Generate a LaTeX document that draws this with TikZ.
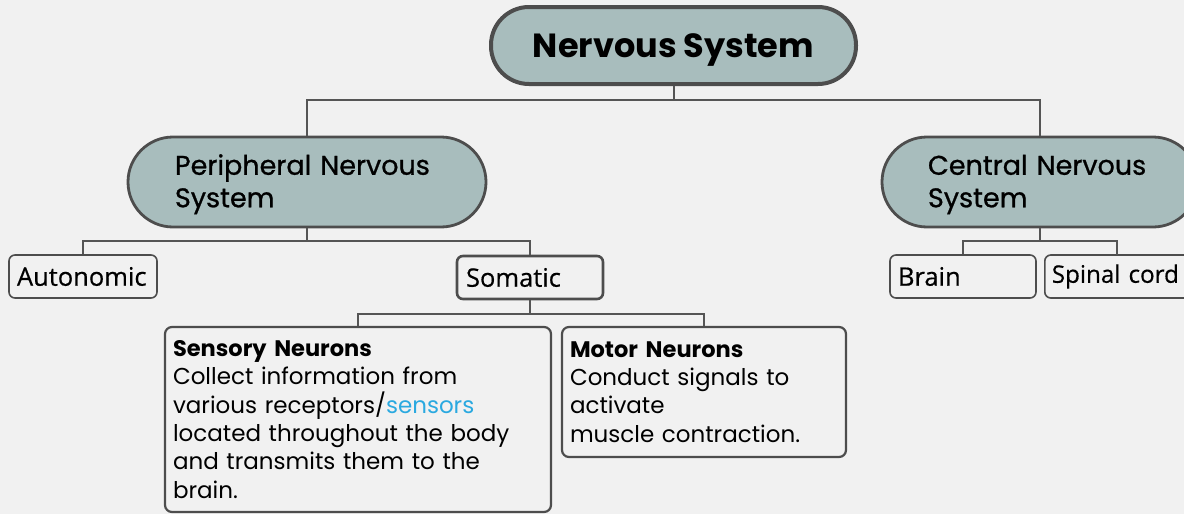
\documentclass[tikz,border=0pt]{standalone}
\usepackage{fontspec}
\setmainfont{Poppins}
\newfontfamily\medfont[FakeBold=0.8]{Poppins}
\newfontfamily\osans[FakeBold=0.5]{Open Sans}
\definecolor{bg}{HTML}{F1F1F1}
\definecolor{pillc}{HTML}{A8BDBD}
\definecolor{edgec}{HTML}{4D4D4D}
\definecolor{sens}{HTML}{2AA9E0}
\definecolor{linec}{HTML}{555555}
\newcommand{\lift}{\rule{0pt}{25pt}}
\tikzset{
  pillbox/.style={draw=edgec, fill=pillc, rounded corners=#1, inner sep=0pt},
  smallbox/.style={draw=edgec, fill=bg, line width=1.6pt, rounded corners=6pt, inner sep=0pt,
     minimum height=43pt, font={\osans\fontsize{25.5}{26}\selectfont}},
  infobox/.style={draw=edgec, line width=2.2pt, rounded corners=7pt, inner sep=0pt, align=left,
     font={\fontsize{23}{28.3}\selectfont}},
  conn/.style={draw=linec, line width=2pt}
}
\begin{document}
\begin{tikzpicture}[x=1pt,y=-1pt]
\fill[bg] (0,0) rectangle (1184,514);
\useasboundingbox (0,0) rectangle (1184,514);
\begin{scope}
\clip (0,0) rectangle (1184,514);
% top
\node[pillbox=38pt, line width=4pt, minimum width=365pt, minimum height=77pt,
      text height=23pt, text depth=0pt,
      font={\bfseries\fontsize{33.5}{36}\selectfont}] (ns) at (673.5,45.5) {Nervous System};
% level 2
\node[pillbox=45pt, line width=2.8pt, minimum width=358pt, minimum height=90pt,
      text width=264pt, align=left, font={\medfont\fontsize{27}{32.5}\selectfont}] (pns) at (307,182) {\lift Peripheral Nervous\\System};
\node[pillbox=45pt, line width=2.8pt, minimum width=316pt, minimum height=90pt,
      text width=224pt, align=left, font={\medfont\fontsize{27}{32.5}\selectfont}] (cns) at (1040,182) {\lift Central Nervous\\System};
% level 3
\node[smallbox, minimum width=148pt, text width=132pt, align=left] (auto) at (83,276.5) {Autonomic};
\node[smallbox, line width=2.6pt, minimum width=146pt, text width=128pt, align=left] (soma) at (530,277.5) {Somatic};
\node[smallbox, minimum width=146pt, text width=130pt, align=left] (brain) at (963,276.5) {Brain};
\node[smallbox, minimum width=146pt, text width=160pt, inner xsep=7pt, align=left, anchor=west,
      font={\osans\fontsize{24.2}{26}\selectfont}] (spinal) at (1044,276.5) {Spinal cord};
\coordinate (spinaltop) at (1117,255);
% level 4
\node[infobox, minimum width=386pt, minimum height=185pt, text width=370pt] (sensory) at (358,419.5)
  {{\fontsize{22.5}{28.3}\selectfont\bfseries Sensory Neurons}\\Collect information from\\various receptors/\textcolor{sens}{sensors}\\located throughout the body\\and transmits them to the\\brain.};
\node[infobox, minimum width=284pt, minimum height=130pt, text width=268pt] (motor) at (704,392)
  {{\fontsize{22.5}{28.3}\selectfont\bfseries Motor Neurons}\\Conduct signals to\\activate\\muscle contraction.};
\end{scope}
% connectors
\draw[conn] (ns.south) -- ++(0,14) coordinate (j1) -| (pns.north);
\draw[conn] (j1) -| (cns.north);
\draw[conn] (pns.south) -- ++(0,13) coordinate (j2) -| (auto.north);
\draw[conn] (j2) -| (soma.north);
\draw[conn] (soma.south) -- ++(0,14) coordinate (j3) -| (sensory.north);
\draw[conn] (j3) -| (motor.north);
\draw[conn] (cns.south) -- ++(0,13) coordinate (j4) -| (brain.north);
\draw[conn] (j4) -| (spinaltop);
\end{tikzpicture}
\end{document}
